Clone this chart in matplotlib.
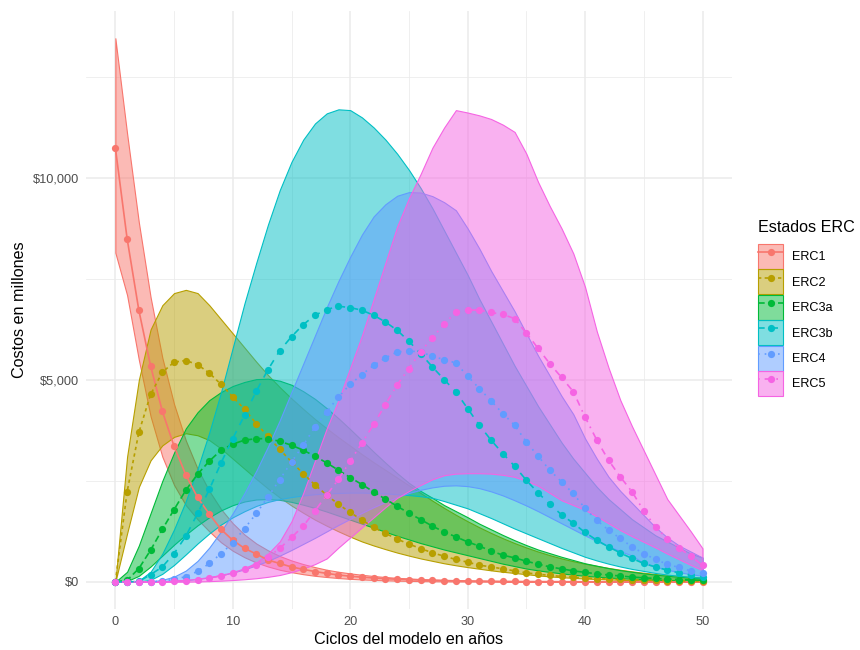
import matplotlib
matplotlib.use("Agg")
import matplotlib.pyplot as plt
from matplotlib.colors import to_rgba
from matplotlib.lines import Line2D
from matplotlib.patches import Patch
from matplotlib.ticker import FuncFormatter, MultipleLocator

plt.rcParams['font.family'] = ['Liberation Sans', 'DejaVu Sans']

# Ciclos anuales del modelo
ciclos = list(range(51))

estados = ["ERC1", "ERC2", "ERC3a", "ERC3b", "ERC4", "ERC5"]

# Costos (millones) por estado: media, limite inferior y superior
erc1_media = [10750, 8500, 6725, 5345, 4225, 3360, 2650, 2090, 1680, 1300,
              1030, 830, 690, 540, 455, 370, 310, 255, 210, 170,
              140, 115, 95, 80, 65, 55, 45, 38, 32, 27,
              22, 18, 15, 12, 10, 8, 7, 6, 5, 4,
              3, 3, 2, 2, 2, 1, 1, 1, 1, 1, 1]
erc1_inf = [8150, 7100, 5500, 4100, 3100, 2400, 1900, 1550, 1250, 980,
            770, 610, 480, 380, 300, 240, 190, 150, 120, 95,
            75, 60, 48, 38, 30, 24, 19, 15, 12, 10,
            8, 6, 5, 4, 3, 3, 2, 2, 2, 1,
            1, 1, 1, 1, 1, 0, 0, 0, 0, 0, 0]
erc1_sup = [13460, 11100, 8900, 7050, 5550, 4400, 3500, 2800, 2250, 1800,
            1450, 1170, 950, 780, 640, 530, 440, 365, 300, 250,
            210, 175, 145, 120, 100, 85, 70, 58, 48, 40,
            33, 28, 23, 19, 16, 13, 11, 9, 8, 7,
            6, 5, 4, 4, 3, 3, 2, 2, 2, 2, 1]

erc2_media = [0, 2230, 3700, 4640, 5190, 5440, 5480, 5380, 5170, 4890,
              4580, 4270, 3920, 3600, 3280, 2970, 2680, 2400, 2150, 1920,
              1720, 1530, 1350, 1200, 1060, 935, 826, 720, 636, 554,
              488, 413, 371, 322, 272, 223, 190, 160, 135, 115,
              98, 83, 70, 60, 50, 42, 36, 30, 25, 21, 18]
erc2_inf = [0, 1200, 2350, 3010, 3380, 3590, 3680, 3630, 3510, 3300,
            3050, 2800, 2550, 2310, 2090, 1890, 1710, 1540, 1390, 1250,
            1120, 1000, 900, 810, 725, 650, 580, 520, 460, 410,
            365, 325, 285, 250, 220, 190, 160, 135, 115, 98,
            83, 71, 60, 51, 43, 36, 31, 26, 22, 18, 15]
erc2_sup = [0, 3100, 5000, 6250, 6850, 7150, 7230, 7150, 6850, 6500,
            6150, 5800, 5450, 5120, 4820, 4540, 4280, 4030, 3800, 3580,
            3370, 3160, 2960, 2770, 2580, 2390, 2200, 2010, 1830, 1660,
            1500, 1350, 1210, 1080, 960, 850, 750, 660, 580, 510,
            450, 395, 345, 300, 260, 225, 195, 170, 145, 125, 110]

erc3a_media = [0, 40, 330, 785, 1300, 1790, 2270, 2665, 2990, 3260,
               3410, 3510, 3545, 3545, 3480, 3383, 3260, 3110, 2946, 2765,
               2584, 2410, 2228, 2047, 1873, 1700, 1544, 1379, 1238, 1114,
               990, 884, 767, 661, 594, 512, 438, 371, 322, 272,
               235, 200, 170, 145, 120, 100, 85, 70, 58, 48, 40]
erc3a_inf = [0, 20, 150, 380, 650, 920, 1170, 1400, 1600, 1770,
             1900, 1990, 2040, 2050, 2030, 1980, 1910, 1830, 1740, 1640,
             1540, 1440, 1340, 1240, 1140, 1050, 960, 880, 800, 730,
             660, 590, 520, 450, 390, 330, 285, 245, 210, 178,
             150, 128, 108, 92, 77, 65, 55, 46, 38, 32, 26]
erc3a_sup = [0, 250, 900, 1700, 2500, 3200, 3800, 4200, 4500, 4700,
             4850, 4950, 5020, 5030, 4980, 4880, 4720, 4530, 4300, 4050,
             3780, 3500, 3220, 2950, 2690, 2450, 2250, 2080, 1900, 1750,
             1600, 1440, 1300, 1160, 1030, 910, 800, 710, 620, 540,
             460, 400, 340, 290, 250, 210, 180, 150, 125, 105, 90]

erc3b_media = [0, 0, 10, 180, 371, 702, 1131, 1693, 2287, 2946,
               3549, 4126, 4720, 5256, 5725, 6070, 6370, 6601, 6742, 6824,
               6791, 6725, 6601, 6435, 6229, 5957, 5650, 5322, 5009, 4703,
               4291, 3878, 3507, 3178, 2864, 2517, 2203, 1923, 1660, 1452,
               1223, 1032, 866, 718, 579, 455, 371, 290, 223, 166, 124]
erc3b_inf = [0, 0, 0, 50, 200, 420, 680, 950, 1200, 1420,
             1600, 1750, 1880, 1980, 2050, 2100, 2140, 2170, 2190, 2200,
             2210, 2210, 2200, 2190, 2170, 2150, 2120, 2080, 2000, 1910,
             1820, 1700, 1580, 1450, 1320, 1200, 1080, 960, 840, 730,
             620, 530, 450, 380, 320, 270, 220, 180, 150, 120, 100]
erc3b_sup = [0, 0, 30, 250, 700, 1300, 2000, 2800, 3700, 4700,
             5800, 6900, 7900, 8850, 9700, 10400, 10950, 11350, 11600, 11700,
             11680, 11500, 11250, 10950, 10600, 10200, 9750, 9250, 8700, 8150,
             7600, 7000, 6450, 5900, 5350, 4850, 4350, 3900, 3450, 3050,
             2700, 2350, 2050, 1800, 1550, 1350, 1150, 1000, 850, 700, 600]

erc4_media = [0, 0, 0, 5, 20, 60, 130, 260, 455, 700,
              965, 1321, 1693, 2104, 2534, 2970, 3383, 3836, 4208, 4579,
              4893, 5133, 5363, 5544, 5693, 5717, 5693, 5586, 5504, 5420,
              5091, 4787, 4480, 4168, 3878, 3465, 3111, 2765, 2475, 2188,
              1817, 1527, 1280, 1074, 866, 702, 554, 438, 356, 272, 208]
erc4_inf = [0, 0, 0, 2, 8, 20, 40, 70, 110, 160,
            230, 310, 410, 520, 650, 790, 940, 1090, 1250, 1410,
            1560, 1710, 1850, 1980, 2100, 2200, 2280, 2340, 2380, 2390,
            2370, 2320, 2240, 2140, 2020, 1890, 1750, 1600, 1450, 1300,
            1150, 1010, 880, 760, 650, 460, 370, 300, 240, 190, 150]
erc4_sup = [0, 0, 0, 10, 50, 130, 280, 520, 850, 1250,
            1700, 2200, 2750, 3350, 4000, 4700, 5400, 6100, 6800, 7450,
            8050, 8600, 9050, 9350, 9560, 9650, 9640, 9550, 9400, 9200,
            8750, 8250, 7700, 7200, 6700, 6150, 5600, 5100, 4600, 4150,
            3550, 3050, 2600, 2250, 1950, 1650, 1350, 1100, 900, 750, 600]

erc5_media = [0, 0, 0, 2, 6, 15, 30, 55, 95, 150,
              225, 310, 430, 610, 830, 1100, 1380, 1760, 2150, 2540,
              2990, 3440, 3900, 4390, 4880, 5280, 5700, 6050, 6380, 6680,
              6730, 6730, 6670, 6620, 6520, 6160, 5780, 5400, 5060, 4710,
              4080, 3510, 3010, 2600, 2230, 1760, 1360, 1070, 840, 640, 410]
erc5_inf = [0, 0, 0, 0, 1, 2, 5, 10, 18, 30,
            45, 65, 90, 125, 170, 240, 330, 440, 580, 850,
            1100, 1350, 1600, 1850, 2080, 2250, 2400, 2540, 2640, 2680,
            2690, 2690, 2680, 2650, 2600, 2500, 2380, 2200, 2020, 1900,
            1780, 1620, 1450, 1280, 1130, 990, 850, 700, 560, 420, 290]
erc5_sup = [0, 0, 0, 5, 15, 30, 50, 80, 120, 170,
            240, 340, 480, 700, 1000, 1500, 2200, 3000, 3800, 4500,
            5300, 6100, 7000, 7900, 8800, 9500, 10100, 10750, 11250, 11680,
            11620, 11550, 11460, 11320, 11140, 10600, 9900, 9300, 8750, 8130,
            7300, 6200, 5300, 4500, 3850, 3250, 2650, 2050, 1650, 1250, 830]

medias = [erc1_media, erc2_media, erc3a_media, erc3b_media, erc4_media, erc5_media]
inferiores = [erc1_inf, erc2_inf, erc3a_inf, erc3b_inf, erc4_inf, erc5_inf]
superiores = [erc1_sup, erc2_sup, erc3a_sup, erc3b_sup, erc4_sup, erc5_sup]

# paleta hue de ggplot y tipos de linea por estado
colores = ["#F8766D", "#B79F00", "#00BA38", "#00BFC4", "#619CFF", "#F564E3"]
guiones = [None, (2, 2), (4, 2), (4, 4), (1, 3), (1, 3, 4, 3)]

fig = plt.figure(figsize=(8.6, 6.5), dpi=100)
ax = fig.add_axes([0.1, 0.063, 0.751, 0.92])

lw = 1.2
ms = 5.2

# bandas primero, luego lineas, luego puntos (como en capas de ggplot)
for i, est in enumerate(estados):
    ax.fill_between(ciclos, inferiores[i], superiores[i],
                    facecolor=to_rgba(colores[i], 0.5), edgecolor=colores[i],
                    linewidth=0.8, zorder=2)

for i, est in enumerate(estados):
    ln, = ax.plot(ciclos, medias[i], color=colores[i], lw=lw, zorder=3)
    if guiones[i] is not None:
        ln.set_dashes(guiones[i])

for i, est in enumerate(estados):
    ax.plot(ciclos, medias[i], ls="none", marker="o", ms=ms,
            color=colores[i], markeredgewidth=0, zorder=4)

ymax = max(max(s) for s in superiores)
ax.set_xlim(-2.5, 52.5)
ax.set_ylim(-0.05 * ymax, 1.05 * ymax)

ax.xaxis.set_major_locator(MultipleLocator(10))
ax.xaxis.set_minor_locator(MultipleLocator(5))
ax.yaxis.set_major_locator(MultipleLocator(5000))
ax.yaxis.set_minor_locator(MultipleLocator(2500))
ax.yaxis.set_major_formatter(FuncFormatter(lambda v, p: f"${v:,.0f}"))

ax.grid(which="major", color="#EBEBEB", lw=1.1, zorder=0)
ax.grid(which="minor", color="#EBEBEB", lw=0.55, zorder=0)
ax.set_axisbelow(True)
for s in ax.spines.values():
    s.set_visible(False)
ax.tick_params(which="both", length=0, labelsize=9.2, labelcolor="#4D4D4D")
ax.tick_params(axis="x", pad=5)
ax.tick_params(axis="y", pad=5)

ax.set_xlabel("Ciclos del modelo en años", fontsize=11.6, labelpad=3)
ax.set_ylabel("Costos en millones", fontsize=11.6, labelpad=4)

handles = []
for i, est in enumerate(estados):
    parche = Patch(facecolor=to_rgba(colores[i], 0.5), edgecolor=colores[i], lw=0.8)
    linea = Line2D([], [], color=colores[i], lw=lw, marker="o", ms=ms,
                   markeredgewidth=0)
    if guiones[i] is not None:
        linea.set_dashes(guiones[i])
    handles.append((parche, linea))

# titulo de la leyenda aparte para controlar su separacion
fig.text(758 / 860, 1 - 228 / 650, "Estados ERC", fontsize=11.6,
         ha="left", va="center")
fig.legend(handles, estados, loc="upper left",
           bbox_to_anchor=(758 / 860, 1 - 244 / 650),
           frameon=False, fontsize=9.1, numpoints=1,
           handlelength=1.98, handleheight=2.67, labelspacing=0.03,
           handletextpad=0.7, borderaxespad=0, borderpad=0)

fig.savefig("out.png", dpi=100)
